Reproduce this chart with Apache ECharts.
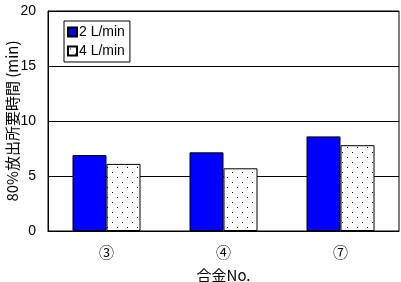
<!DOCTYPE html>
<html><head><meta charset="utf-8">
<script src="https://cdn.jsdelivr.net/npm/echarts@6/dist/echarts.min.js"></script>
<style>html,body{margin:0;padding:0;background:#fff}#c{width:401px;height:282px}</style>
</head><body><div id="c"></div>
<script>
const categories = ['③', '④', '⑦'];
const series2L = [6.9, 7.15, 8.6];
const series4L = [6.1, 5.7, 7.8];
const seriesNames = ['2 L/min', '4 L/min'];
const yTicks = [0, 5, 10, 15, 20];

const pc = document.createElement('canvas');
pc.width = 10; pc.height = 10;
const g = pc.getContext('2d');
g.fillStyle = '#fff'; g.fillRect(0, 0, 10, 10);
g.fillStyle = '#000';
g.fillRect(2, 2, 1, 1);
g.fillRect(7, 7, 1, 1);
const dotPattern = { image: pc, repeat: 'repeat' };

const font = '"Liberation Sans", "Noto Sans CJK JP", sans-serif';
const cjk = '"Noto Sans CJK JP", sans-serif';
const chart = echarts.init(document.getElementById('c'), null, { renderer: 'canvas' });
chart.setOption({
  animation: false,
  backgroundColor: '#fff',
  textStyle: { fontFamily: font, color: '#000' },
  grid: { left: 48, right: 2, top: 11, bottom: 51, containLabel: false, outerBoundsMode: 'none',
    show: true, borderColor: '#000', borderWidth: 1 },
  legend: {
    orient: 'vertical', left: 64, top: 21,
    icon: 'rect',
    itemWidth: 9, itemHeight: 9, itemGap: 5,
    padding: [4, 5, 4, 3],
    borderColor: '#000', borderWidth: 1, backgroundColor: '#fff', borderRadius: 0,
    textStyle: { fontSize: 14, color: '#000', fontFamily: font, padding: [0, 0, 0, -3] },
    data: seriesNames
  },
  xAxis: {
    type: 'category', data: categories,
    name: '合金No.', nameLocation: 'middle', nameGap: 37, nameMoveOverlap: false,
    nameTextStyle: { fontSize: 15, color: '#000', fontFamily: cjk },
    axisLine: { lineStyle: { color: '#000', width: 1 } },
    axisTick: { inside: true, length: 4, lineStyle: { color: '#000' } },
    axisLabel: { fontSize: 15, color: '#000', margin: 14, fontFamily: cjk }
  },
  yAxis: {
    type: 'value', min: yTicks[0], max: yTicks[yTicks.length - 1], interval: 5,
    name: '80%放出所要時間 (min)', nameLocation: 'middle', nameGap: 28, nameMoveOverlap: false,
    nameTextStyle: { fontSize: 15, color: '#000', fontFamily: cjk },
    axisLine: { show: true, lineStyle: { color: '#000' } },
    axisTick: { show: false },
    axisLabel: { fontSize: 14, color: '#000', margin: 12 },
    splitLine: { lineStyle: { color: '#000', width: 1 } }
  },
  series: [
    { name: seriesNames[0], type: 'bar', data: series2L, barWidth: 34, barGap: '0%',
      itemStyle: { color: '#0000ff', borderColor: '#000', borderWidth: 1 } },
    { name: seriesNames[1], type: 'bar', data: series4L, barWidth: 34,
      itemStyle: { color: dotPattern, borderColor: '#000', borderWidth: 1 } }
  ]
});
</script></body></html>
